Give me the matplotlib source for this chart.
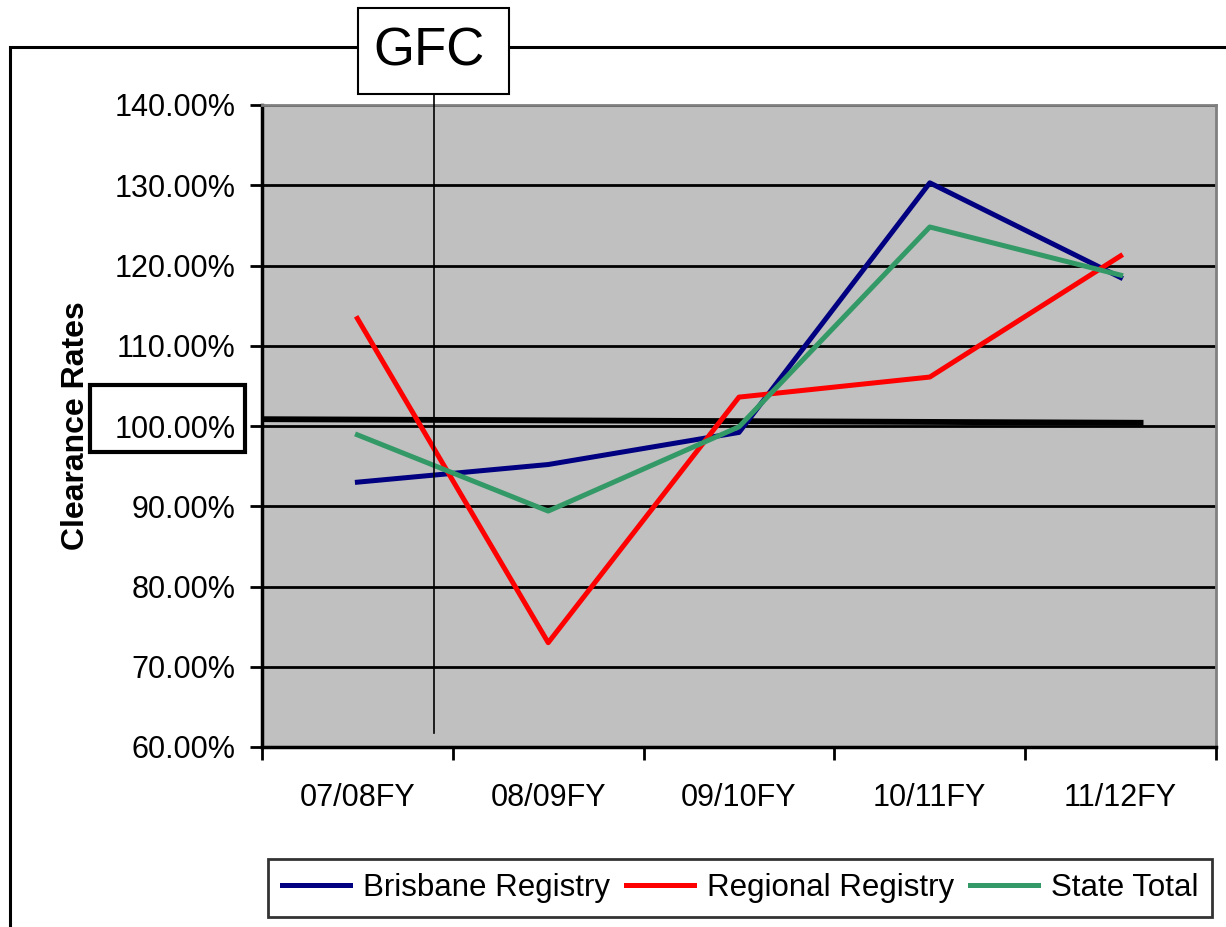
import matplotlib.pyplot as plt
from matplotlib.patches import Rectangle

plt.rcParams['font.family'] = ['Liberation Sans', 'DejaVu Sans']

# данные
years = ['07/08FY', '08/09FY', '09/10FY', '10/11FY', '11/12FY']
brisbane = [93.0, 95.2, 99.2, 130.3, 118.5]
regional = [113.4, 73.0, 103.6, 106.1, 121.2]
state = [98.9, 89.4, 99.9, 124.8, 118.8]
gfc_x = 0.4
threshold_x = [-0.5, 4.12]
threshold_y = [100.85, 100.4]

W, H = 1226, 927
fig = plt.figure(figsize=(W / 100, H / 100), dpi=100)
ax = fig.add_axes([262 / W, 1 - 747 / H, 954 / W, 642 / H])
ax.set_facecolor('#c0c0c0')

x = list(range(len(years)))
ax.plot(x, brisbane, color='#000080', lw=3.6, label='Brisbane Registry', zorder=4)
ax.plot(x, regional, color='#ff0000', lw=3.6, label='Regional Registry', zorder=4)
ax.plot(x, state, color='#339966', lw=3.6, label='State Total', zorder=4)

# линия 100%
ax.plot(threshold_x, threshold_y, color='black', lw=4.2, zorder=3, solid_capstyle='butt')

# вертикальная линия GFC
ax.plot([gfc_x, gfc_x], [61.7, 141.5], color='black', lw=1.2, clip_on=False, zorder=5)

ax.set_xlim(-0.5, 4.5)
ax.set_ylim(60, 140)
yt = list(range(60, 141, 10))
ax.set_yticks(yt)
ax.set_yticklabels([f'{v:.2f}%' for v in yt])
ax.yaxis.grid(True, color='black', lw=2)
ax.set_axisbelow(True)

ax.set_xticks([i - 0.5 for i in range(len(years) + 1)])
ax.set_xticklabels([])
ax.set_xticks(x, minor=True)
ax.set_xticklabels(years, minor=True)
ax.tick_params(axis='x', which='major', length=9, width=2, direction='out')
ax.tick_params(axis='x', which='minor', length=0, pad=26, labelsize=22)
ax.tick_params(axis='y', length=9, width=2, pad=10, labelsize=22)

for s in ['left', 'bottom']:
    ax.spines[s].set_linewidth(2.5)
    ax.spines[s].set_color('black')
for s in ['top', 'right']:
    ax.spines[s].set_linewidth(2)
    ax.spines[s].set_color('#808080')

ax.set_ylabel('Clearance Rates', fontsize=23, fontweight='bold', labelpad=17)

# рамка диаграммы
fig.add_artist(Rectangle((10 / W, -0.1), 1.2, 1.1 - 47 / H, transform=fig.transFigure,
                         fill=False, ec='black', lw=2.2, zorder=1))
# рамка вокруг 100%
fig.add_artist(Rectangle((90 / W, 1 - 452 / H), 155 / W, 67 / H, transform=fig.transFigure,
                         fill=False, ec='black', lw=3, zorder=2))
# надпись GFC
fig.add_artist(Rectangle((358 / W, 1 - 94 / H), 151 / W, 86 / H, transform=fig.transFigure,
                         fc='white', ec='black', lw=1.5, zorder=6))
fig.text(429 / W, 1 - 52 / H, 'GFC', fontsize=38, ha='center', va='center', zorder=7)

leg = fig.legend(loc='center', bbox_to_anchor=(740 / W, 1 - 888 / H), ncol=3,
                 fontsize=22.5, frameon=True, fancybox=False, edgecolor='black',
                 handlelength=2.2, columnspacing=0.5, handletextpad=0.4, borderpad=0.45)
leg.get_frame().set_linewidth(2)

fig.savefig('out.png', dpi=100)
